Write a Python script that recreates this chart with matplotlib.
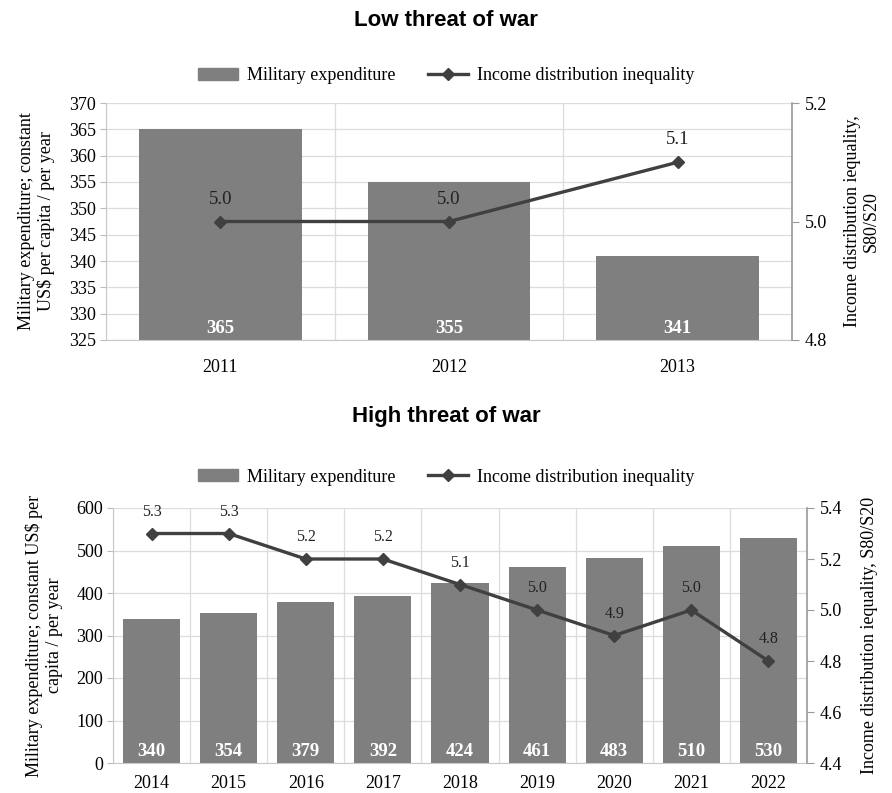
import numpy as np
import matplotlib.pyplot as plt

# data
years_low = ["2011", "2012", "2013"]
mil_low = [365, 355, 341]
ineq_low = [5.0, 5.0, 5.1]

years_high = ["2014", "2015", "2016", "2017", "2018", "2019", "2020", "2021", "2022"]
mil_high = [340, 354, 379, 392, 424, 461, 483, 510, 530]
ineq_high = [5.3, 5.3, 5.2, 5.2, 5.1, 5.0, 4.9, 5.0, 4.8]

plt.rcParams['font.family'] = ['Liberation Serif', 'DejaVu Serif']

BAR = '#7f7f7f'
LINE = '#404040'
GRID = '#dcdcdc'

fig = plt.figure(figsize=(8.92, 7.93), dpi=100)


def panel(rect, years, mil, ineq, ylim, yticks, rlim, rticks, width, lbl_l, lbl_r,
          title, title_y, leg_y, lfs, xpad, rlabel_pad):
    ax = fig.add_axes(rect)
    x = np.arange(len(years))
    bars = ax.bar(x, mil, width=width, color=BAR, zorder=2)
    ax.set_ylim(*ylim)
    ax.set_yticks(yticks)
    ax.set_xlim(-0.5, len(years) - 0.5)
    ax.set_xticks(x)
    ax.set_xticklabels(years)
    ax.set_xticks(np.arange(-0.5, len(years)), minor=True)
    ax.grid(True, which='major', axis='y', color=GRID, lw=0.9, zorder=0)
    ax.grid(True, which='minor', axis='x', color=GRID, lw=0.9, zorder=0)
    ax.tick_params(axis='x', which='both', length=0, labelsize=13, pad=xpad)
    ax.tick_params(axis='y', length=4, color='#bbbbbb', labelsize=13, pad=3)
    for s in ['top', 'right']:
        ax.spines[s].set_visible(False)
    for s in ['left', 'bottom']:
        ax.spines[s].set_color('#c8c8c8')
    for b, v in zip(bars, mil):
        ax.text(b.get_x() + b.get_width() / 2, ylim[0] + (ylim[1] - ylim[0]) * 0.012, str(v),
                ha='center', va='bottom', color='white', fontsize=13.5, fontweight='bold', zorder=3)
    ax.set_ylabel(lbl_l, fontsize=13, labelpad=10)

    ax2 = ax.twinx()
    ax2.plot(x, ineq, color=LINE, lw=2.4, marker='D', ms=6, zorder=4)
    ax2.set_ylim(*rlim)
    ax2.set_yticks(rticks)
    ax2.set_yticklabels([f"{t:.1f}" for t in rticks])
    ax2.tick_params(axis='y', length=5, color='#999999', labelsize=13, pad=4)
    for s in ['top', 'left', 'bottom']:
        ax2.spines[s].set_visible(False)
    ax2.spines['right'].set_color('#999999')
    ax2.spines['right'].set_linewidth(1.2)
    for xi, v in zip(x, ineq):
        ax2.annotate(f"{v:.1f}", (xi, v), xytext=(0, 10), textcoords='offset points',
                     ha='center', va='bottom', fontsize=lfs, color='#222222')
    ax2.set_ylabel(lbl_r, fontsize=13, labelpad=rlabel_pad)

    fig.text(0.5, title_y, title, ha='center', va='center', fontsize=16,
             fontweight='bold', family='Liberation Sans')
    h1 = plt.Rectangle((0, 0), 1, 1, color=BAR)
    h2 = plt.Line2D([], [], color=LINE, lw=2.4, marker='D', ms=6)
    fig.legend([h1, h2], ["Military expenditure", "Income distribution inequality"],
               loc='center', bbox_to_anchor=(0.5, leg_y), ncol=2, frameon=False,
               fontsize=13, handlelength=2.2, handleheight=0.6, handletextpad=0.5,
               columnspacing=1.8)
    return ax, ax2


panel([106 / 892, 1 - 340 / 793, (792 - 106) / 892, (340 - 103) / 793],
      years_low, mil_low, ineq_low, (325, 370), np.arange(325, 371, 5),
      (4.8, 5.2), [4.8, 5.0, 5.2], 0.71,
      "Military expenditure; constant\nUS$ per capita / per year",
      "Income distribution iequality,\nS80/S20",
      "Low threat of war", 1 - 20 / 793, 1 - 76 / 793, 13.5, 14, 12)

panel([113 / 892, 1 - 763 / 793, (807 - 113) / 892, (763 - 508) / 793],
      years_high, mil_high, ineq_high, (0, 600), np.arange(0, 601, 100),
      (4.4, 5.4), [4.4, 4.6, 4.8, 5.0, 5.2, 5.4], 0.74,
      "Military expenditure; constant US$ per\ncapita / per year",
      "Income distribution iequality, S80/S20",
      "High threat of war", 1 - 417 / 793, 1 - 477 / 793, 11.5, 9, 14)

fig.savefig("out.png", dpi=100)
